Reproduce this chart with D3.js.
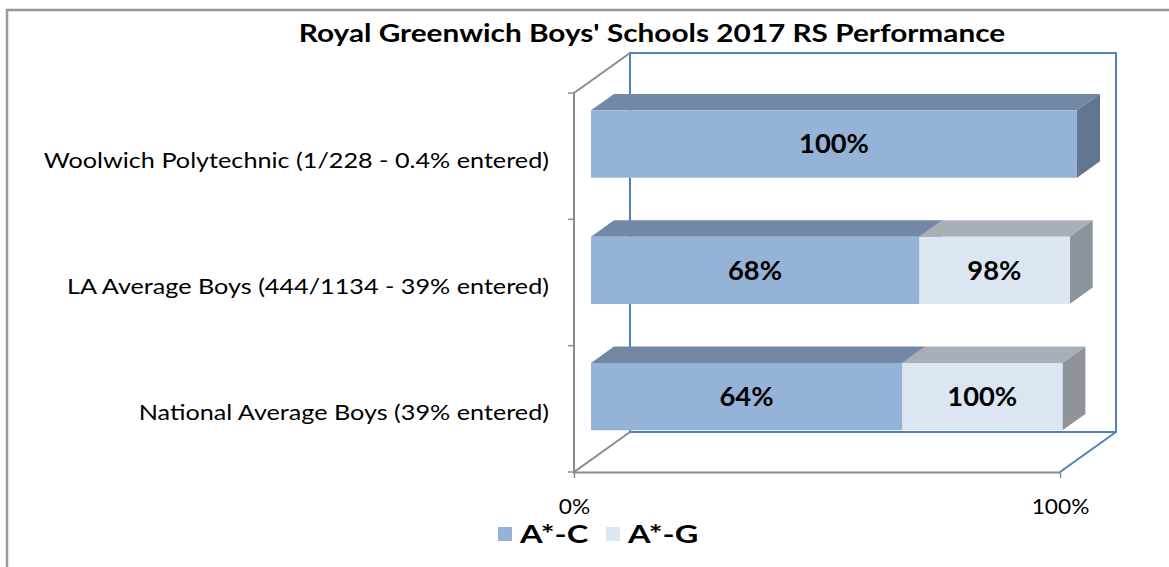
<!DOCTYPE html>
<html>
<head>
<meta charset="utf-8">
<script src="https://cdn.jsdelivr.net/npm/d3@7"></script>
<style>
  body { margin: 0; background: #fff; }
  text { font-family: Lato, "Open Sans", sans-serif; fill: #000; }
</style>
</head>
<body>
<svg id="canvas" width="1169" height="567"></svg>
<script>
// chart data, top to bottom
let categories = [
	'Woolwich Polytechnic (1/228 - 0.4% entered)',
	'LA Average Boys (444/1134 - 39% entered)',
	'National Average Boys (39% entered)'
];
let acValues = [100, 67.5, 64];   // A*-C part
let agValues = [0, 31, 33];       // A*-G part stacked after A*-C
let acLabels = ['100%', '68%', '64%'];
let agLabels = ['', '98%', '100%'];
let xTicks = [0, 100];
let seriesNames = ['A*-C', 'A*-G'];

let colors = {
	'A*-C': { front: '#95b3d7', top: '#7388a5', side: '#627590' },
	'A*-G': { front: '#dce6f2', top: '#a9afb7', side: '#8d949c' }
};

let canvas = d3.select('#canvas');

// the original font is wider than Lato, so stretch text a bit
let stretch = (sel, k) => {
	sel.each(function () {
		let w = this.getComputedTextLength();
		d3.select(this).attr('textLength', w * k).attr('lengthAdjust', 'spacingAndGlyphs');
	});
};

// outer chart border
canvas.append('path')
	.attr('d', 'M7,567 L7,10 L1169,10')
	.attr('fill', 'none')
	.attr('stroke', '#999')
	.attr('stroke-width', 2.5);

canvas.append('text')
	.attr('x', 652)
	.attr('y', 42)
	.attr('text-anchor', 'middle')
	.style('font-size', '24px')
	.style('font-weight', 'bold')
	.text("Royal Greenwich Boys' Schools 2017 RS Performance")
	.call(stretch, 1.24);

let x = d3.scaleLinear().domain([0, 100]).range([574, 1060]);
let y = d3.scaleBand().domain(categories).range([93, 472])
	.paddingInner(0.467).paddingOuter(0.2335);

// oblique 3d projection
let DX = 56, DY = 40;
let z0 = 0.304, z1 = 0.714;
let proj = (v, py, z) => [x(v) + z * DX, py - z * DY];
let poly = (pts) => 'M' + pts.map(p => p.join(',')).join('L') + 'Z';

let yTop = y.range()[0], yBot = y.range()[1];

// back wall
canvas.append('path')
	.attr('d', poly([proj(0, yBot, 1), proj(0, yTop, 1), proj(100, yTop, 1), proj(100, yBot, 1)]))
	.attr('fill', 'none')
	.attr('stroke', '#4f81bd')
	.attr('stroke-width', 2);

// floor right edge
canvas.append('line')
	.attr('x1', x(100)).attr('y1', yBot)
	.attr('x2', proj(100, yBot, 1)[0]).attr('y2', proj(100, yBot, 1)[1])
	.attr('stroke', '#4f81bd')
	.attr('stroke-width', 2);

// left wall / floor left edge
canvas.append('path')
	.attr('d', 'M' + proj(0, yBot, 1).join(',') + 'L' + x(0) + ',' + yBot +
		'L' + x(0) + ',' + yTop + 'L' + proj(0, yTop, 1).join(','))
	.attr('fill', 'none')
	.attr('stroke', '#8c8c8c')
	.attr('stroke-width', 2);

// category ticks on left axis
let step = y.step();
let bounds = categories.map(c => y(c) - step * y.paddingInner() / 2).concat([yBot]);
canvas.selectAll('.ytick')
	.data(bounds)
	.enter()
	.append('line')
	.attr('class', 'ytick')
	.attr('x1', x(0) - 6).attr('x2', x(0))
	.attr('y1', d => d).attr('y2', d => d)
	.attr('stroke', '#8c8c8c')
	.attr('stroke-width', 1.5);

canvas.selectAll('.ylabel')
	.data(categories)
	.enter()
	.append('text')
	.attr('class', 'ylabel')
	.attr('x', 549)
	.attr('y', d => y(d) + y.bandwidth() / 2 + 4)
	.attr('dy', '0.35em')
	.attr('text-anchor', 'end')
	.style('font-size', '21px')
	.text(d => d)
	.call(stretch, 1.2);

// bottom axis (floor front line)
let xAxis = d3.axisBottom(x)
	.tickValues(xTicks)
	.tickFormat(d => d + '%')
	.tickSize(6)
	.tickSizeOuter(0)
	.tickPadding(21);
let gx = canvas.append('g')
	.attr('transform', 'translate(0,' + yBot + ')')
	.call(xAxis);
gx.select('.domain').attr('stroke', '#8c8c8c').attr('stroke-width', 2);
gx.selectAll('.tick line').attr('stroke', '#8c8c8c').attr('stroke-width', 1.5);
gx.selectAll('.tick text')
	.style('font-family', 'Lato, sans-serif')
	.style('font-size', '21px')
	.attr('fill', '#000')
	.call(stretch, 1.08);

// bars
let segments = [];
categories.forEach((c, i) => {
	segments.push({ cat: c, series: 'A*-C', start: 0, end: acValues[i], label: acLabels[i] });
	if (agValues[i] > 0) {
		segments.push({ cat: c, series: 'A*-G', start: acValues[i], end: acValues[i] + agValues[i], label: agLabels[i] });
	}
});

let bars = canvas.selectAll('.seg')
	.data(segments)
	.enter()
	.append('g')
	.attr('class', 'seg');

bars.append('path')
	.attr('d', d => {
		let t = y(d.cat);
		return poly([proj(d.start, t, z0), proj(d.start, t, z1), proj(d.end, t, z1), proj(d.end, t, z0)]);
	})
	.attr('fill', d => colors[d.series].top);

bars.append('path')
	.attr('d', d => {
		let t = y(d.cat), b = t + y.bandwidth();
		return poly([proj(d.end, t, z0), proj(d.end, t, z1), proj(d.end, b, z1), proj(d.end, b, z0)]);
	})
	.attr('fill', d => colors[d.series].side);

bars.append('path')
	.attr('d', d => {
		let t = y(d.cat), b = t + y.bandwidth();
		return poly([proj(d.start, t, z0), proj(d.end, t, z0), proj(d.end, b, z0), proj(d.start, b, z0)]);
	})
	.attr('fill', d => colors[d.series].front);

bars.append('text')
	.attr('x', d => (proj(d.start, 0, z0)[0] + proj(d.end, 0, z0)[0]) / 2)
	.attr('y', d => proj(0, y(d.cat) + y.bandwidth() / 2, z0)[1])
	.attr('dy', '0.36em')
	.attr('text-anchor', 'middle')
	.style('font-size', '26px')
	.style('font-weight', 'bold')
	.text(d => d.label)
	.call(stretch, 1.05);

// legend
let legend = canvas.selectAll('.legend')
	.data(seriesNames)
	.enter()
	.append('g')
	.attr('class', 'legend')
	.attr('transform', (d, i) => 'translate(' + (498 + i * 108) + ',527)');

legend.append('rect')
	.attr('width', 14)
	.attr('height', 14)
	.attr('fill', d => colors[d].front);

legend.append('text')
	.attr('x', 22)
	.attr('y', 16)
	.style('font-size', '25px')
	.style('font-weight', 'bold')
	.text(d => d)
	.call(stretch, 1.3);
</script>
</body>
</html>
